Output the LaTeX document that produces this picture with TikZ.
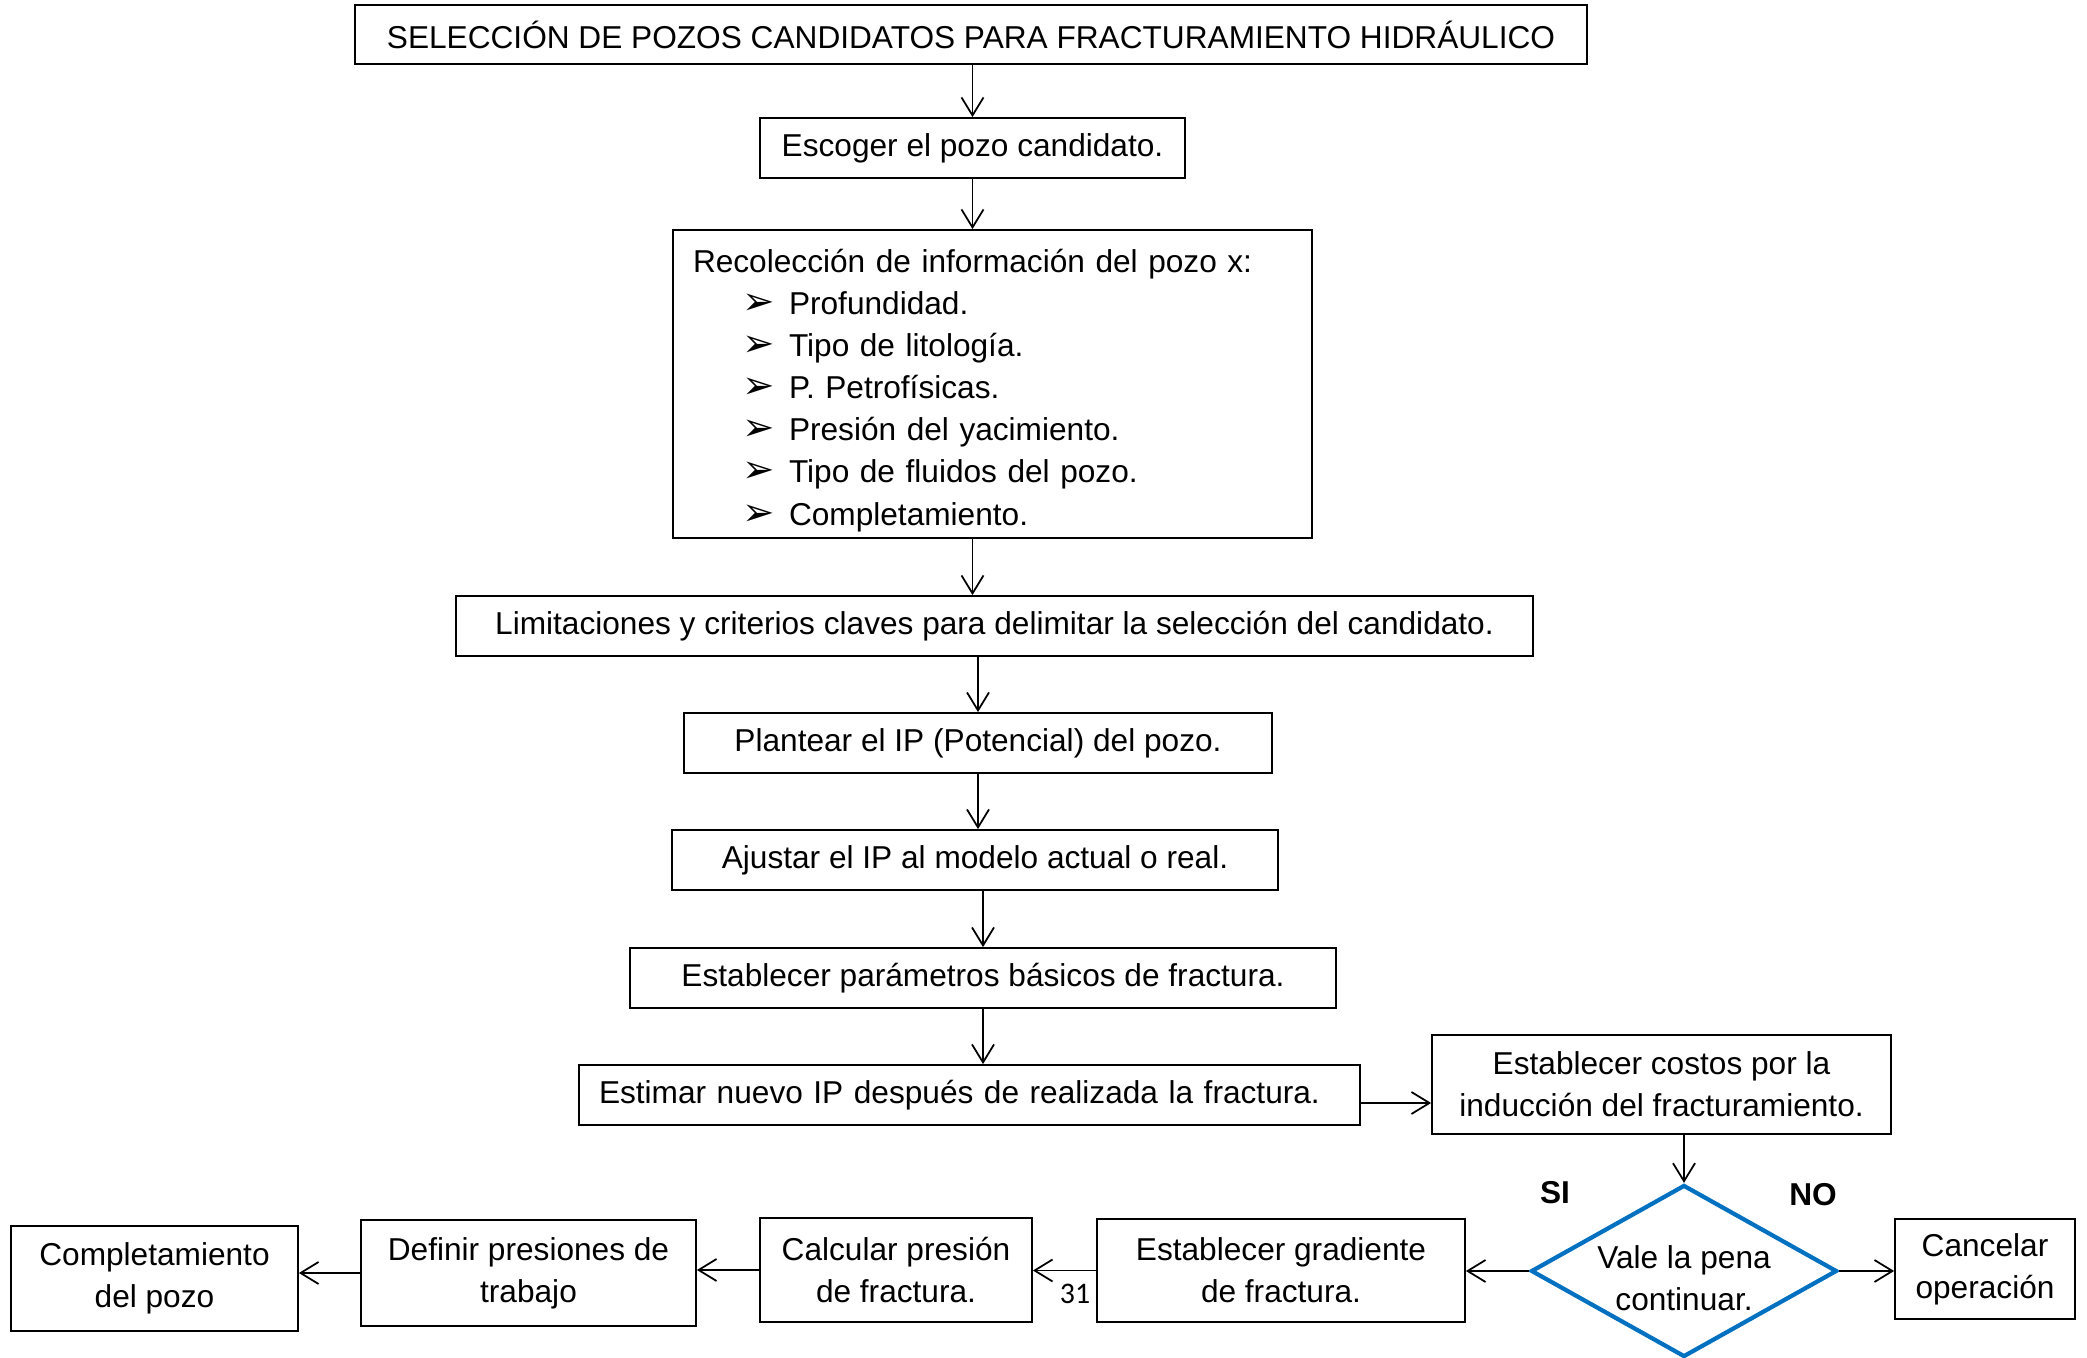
\documentclass[tikz,border=0pt]{standalone}
\usepackage{fontspec}
\setmainfont{Liberation Sans}
\newfontfamily\simbolos{DejaVu Sans}
\newfontfamily\numeros{Carlito}
\usetikzlibrary{arrows.meta,shapes.geometric}
\definecolor{fAzul}{HTML}{0070C0}
\definecolor{fNegro}{HTML}{000000}
\newcommand{\vineta}[1]{\hspace*{0.49cm}\makebox[0.47cm][l]{\simbolos\fontsize{11}{12}\selectfont ➢}#1}
\tikzset{
  caja/.style={draw=fNegro, line width=0.5pt, inner sep=0pt, align=center, font=\fontsize{9}{12}\selectfont},
  rombo/.style={diamond, draw=fAzul, line width=1.2pt, inner sep=0pt, aspect=1.78, minimum width=3.06cm, minimum height=1.72cm},
  flecha/.style={draw=fNegro, line width=0.5pt, -{Straight Barb[length=1.8mm,width=2.2mm]}}
}
\begin{document}
\begin{tikzpicture}
  \useasboundingbox (0,0) rectangle (20.87,-13.58);
  \node[caja, minimum width=12.32cm, minimum height=0.59cm] (tit) at (9.71,-0.345) {SELECCIÓN DE POZOS CANDIDATOS PARA FRACTURAMIENTO HIDRÁULICO};
  \node[caja, minimum width=4.25cm, minimum height=0.6cm] (esc) at (9.725,-1.48) {Escoger el pozo candidato.};
  \node[caja, text width=5.99cm, inner xsep=0.2cm, align=left, minimum height=3.08cm] (rec) at (9.925,-3.84)
    {\rule{0pt}{10.2pt}Recolección de información del pozo x:\\
     \vineta{Profundidad.}\\
     \vineta{Tipo de litología.}\\
     \vineta{P. Petrofísicas.}\\
     \vineta{Presión del yacimiento.}\\
     \vineta{Tipo de fluidos del pozo.}\\
     \vineta{Completamiento.}};
  \node[caja, minimum width=10.77cm, minimum height=0.6cm] (lim) at (9.945,-6.26) {Limitaciones y criterios claves para delimitar la selección del candidato.};
  \node[caja, minimum width=5.88cm, minimum height=0.6cm] (pla) at (9.78,-7.43) {Plantear el IP (Potencial) del pozo.};
  \node[caja, minimum width=6.06cm, minimum height=0.6cm] (aju) at (9.75,-8.60) {Ajustar el IP al modelo actual o real.};
  \node[caja, minimum width=7.06cm, minimum height=0.6cm] (par) at (9.83,-9.78) {Establecer parámetros básicos de fractura.};
  \node[caja, text width=7.41cm, inner xsep=0.2cm, align=left, minimum height=0.6cm] (est) at (9.695,-10.95) {Estimar nuevo IP después de realizada la fractura.};
  \node[caja, minimum width=4.59cm, minimum height=0.99cm] (cos) at (16.615,-10.845) {Establecer costos por la\\inducción del fracturamiento.};
  \node[rombo] (vale) at (16.84,-12.71) {};
  \node[caja, draw=none] (valetxt) at ([yshift=-0.07cm]vale.center) {Vale la pena\\continuar.};
  \node[font=\fontsize{9}{12}\selectfont\bfseries] (si) at (15.55,-11.93) {SI};
  \node[font=\fontsize{9}{12}\selectfont\bfseries] (no) at (18.13,-11.95) {NO};
  \node[caja, minimum width=1.80cm, minimum height=1.0cm] (can) at (19.85,-12.69) {Cancelar\\operación};
  \node[caja, minimum width=3.68cm, minimum height=1.03cm] (gra) at (12.81,-12.705) {Establecer gradiente\\de fractura.};
  \node[caja, minimum width=2.72cm, minimum height=1.04cm] (cal) at (8.96,-12.70) {Calcular presión\\de fractura.};
  \node[caja, minimum width=3.35cm, minimum height=1.06cm] (def) at (5.285,-12.73) {Definir presiones de\\trabajo};
  \node[caja, minimum width=2.87cm, minimum height=1.05cm] (com) at (1.545,-12.785) {Completamiento\\del pozo};
  \node[font=\numeros\fontsize{8.5}{10}\selectfont] (pag) at (10.75,-12.94) {31};

  \draw[flecha] (esc |- tit.south) -- (esc.north);
  \draw[flecha] (esc) -- (esc |- rec.north);
  \draw[flecha] (rec.south -| esc) -- (lim.north -| esc);
  \draw[flecha] (pla |- lim.south) -- (pla);
  \draw[flecha] (pla) -- (pla |- aju.north);
  \draw[flecha] (par |- aju.south) -- (par);
  \draw[flecha] (par) -- (par |- est.north);
  \draw[flecha] ([yshift=-0.08cm]est.east) -- ([yshift=-0.08cm]est.east -| cos.west);
  \draw[flecha] (vale.north |- cos.south) -- (vale.north);
  \draw[flecha] (vale.east) -- (can.west |- vale.east);
  \draw[flecha] (vale.west) -- (gra.east |- vale.west);
  \draw[flecha] (gra.west) -- (cal.east |- gra.west);
  \draw[flecha] (cal.west) -- (def.east |- cal.west);
  \draw[flecha] (def.west) -- (com.east |- def.west);
\end{tikzpicture}
\end{document}
